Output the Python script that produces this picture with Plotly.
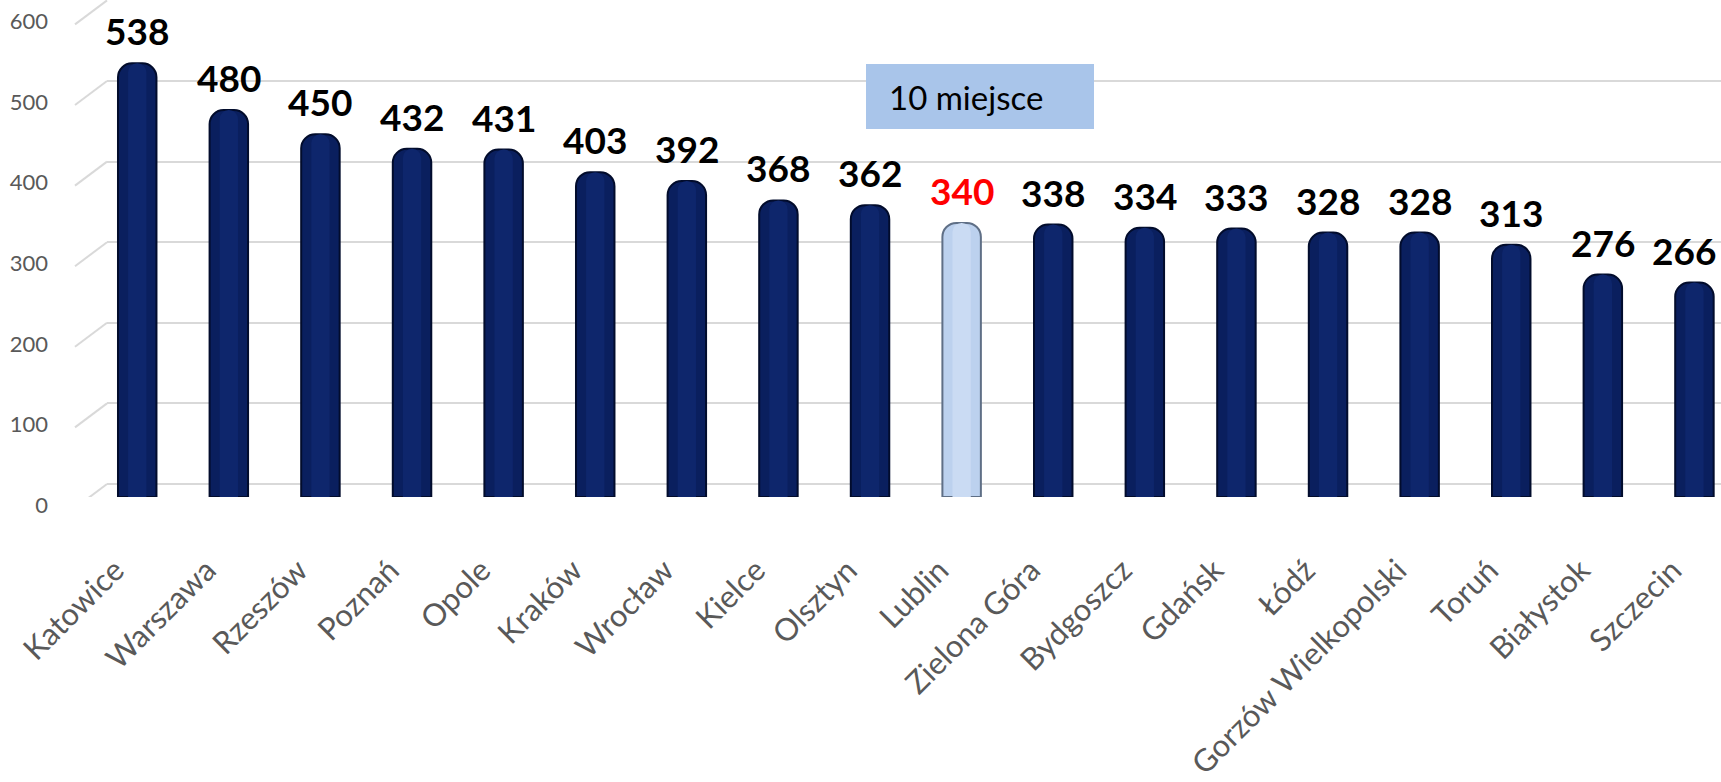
import plotly.graph_objects as go

cities = ["Katowice", "Warszawa", "Rzeszów", "Poznań", "Opole", "Kraków", "Wrocław",
          "Kielce", "Olsztyn", "Lublin", "Zielona Góra", "Bydgoszcz", "Gdańsk", "Łódź",
          "Gorzów Wielkopolski", "Toruń", "Białystok", "Szczecin"]
values = [538, 480, 450, 432, 431, 403, 392, 368, 362, 340, 338, 334, 333, 328, 328, 313, 276, 266]
highlight = "Lublin"
y_ticks = [0, 100, 200, 300, 400, 500, 600]
note_text = "10 miejsce"

NAVY = "#0a1f5e"
LIGHT = "#bcd1ee"
bar_colors = [LIGHT if c == highlight else NAVY for c in cities]
inner_colors = ["#cadbf3" if c == highlight else "#0e266c" for c in cities]
line_colors = ["#5f6f86" if c == highlight else "#020c2c" for c in cities]
label_colors = ["#ff0000" if c == highlight else "#000000" for c in cities]

fig = go.Figure()
fig.add_trace(go.Bar(
    x=cities, y=values, yaxis="y2", width=0.42,
    marker=dict(color=bar_colors, line=dict(color=line_colors, width=2)),
    hoverinfo="x+y",
))
fig.add_trace(go.Bar(
    x=cities, y=values, yaxis="y2", width=0.2,
    marker=dict(color=inner_colors, line=dict(width=0)),
    hoverinfo="skip",
))
# invisible trace to keep the gridline axis active
fig.add_trace(go.Scatter(x=[cities[0]], y=[0], mode="markers",
                         marker=dict(opacity=0), showlegend=False, hoverinfo="skip"))

annotations = []
n = len(cities)
for i, (c, v, col) in enumerate(zip(cities, values, label_colors)):
    annotations.append(dict(
        x=c, y=v, xref="x", yref="y2", text=f"<b>{v}</b>", showarrow=False,
        yanchor="bottom", yshift=8, xshift=(-10 if i == n - 1 else 0),
        font=dict(family="Lato, Liberation Sans, Arial", size=37, color=col)))

shapes = []
for t in y_ticks:
    shapes.append(dict(type="line", xref="paper", xsizemode="pixel", xanchor=0,
                       x0=-32, x1=0, yref="y", ysizemode="pixel", yanchor=t,
                       y0=-24, y1=0, line=dict(color="#d9d9d9", width=2)))
# note box
shapes.append(dict(type="rect", xref="paper", yref="paper",
                   x0=(866 - 107) / 1614, x1=(1094 - 107) / 1614,
                   y0=1 - 129 / 497, y1=1 - 64 / 497,
                   fillcolor="#a9c5ea", line=dict(width=0), layer="above"))
annotations.append(dict(x=(887 - 107) / 1614, y=1 - 97 / 497, xref="paper", yref="paper",
                        xanchor="left", yanchor="middle", text=note_text, showarrow=False,
                        font=dict(family="Lato, Liberation Sans, Arial", size=33, color="#000000")))

fig.update_layout(
    width=1721, height=782,
    margin=dict(l=107, r=0, t=0, b=285),
    paper_bgcolor="white", plot_bgcolor="white",
    showlegend=False,
    barmode="overlay",
    barcornerradius=14,
    xaxis=dict(type="category", range=[-0.33, 17.29], tickangle=-45,
               showgrid=False, showline=False, ticks="",
               tickfont=dict(family="Lato, Liberation Sans, Arial", size=31, color="#595959"),
               ticklabelstandoff=48, ticklabelshift=-22, automargin=False),
    yaxis=dict(range=[-16.1, 600.5], tickvals=y_ticks, showgrid=True,
               gridcolor="#d9d9d9", gridwidth=2, zeroline=False, showline=False,
               tickfont=dict(family="Lato, Liberation Sans, Arial", size=22, color="#595959"),
               ticklabelstandoff=58, ticklabelshift=21, automargin=False),
    yaxis2=dict(range=[0, 616.6], overlaying="y", visible=False),
    annotations=annotations,
    shapes=shapes,
)

fig.write_html("out.html", post_script="document.body.style.margin='0';",
               config={"displayModeBar": False})
